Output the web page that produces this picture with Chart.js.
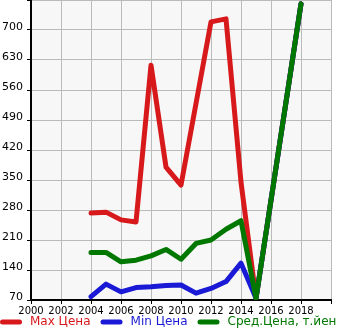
<!DOCTYPE html>
<html>
<head>
<meta charset="utf-8">
<script src="https://cdn.jsdelivr.net/npm/chart.js@4/dist/chart.umd.min.js"></script>
<style>
html,body{margin:0;padding:0;background:#fff;}
canvas{display:block;}
</style>
</head>
<body>
<canvas id="c" width="345" height="335"></canvas>
<script>
const years = [2004, 2005, 2006, 2007, 2008, 2009, 2010, 2011, 2012, 2013, 2014, 2015, 2018];
const maxPrice = [273, 275, 257, 252, 618, 380, 338, null, 719, 726, 345, 74, 761];
const minPrice = [78, 107, 89, 99, 101, 104, 105, 86, 97, 113, 156, 74, 761];
const avgPrice = [181, 181, 159, 163, 173, 188, 165, 202, 210, 235, 255, 74, 761];
const seriesNames = ['Max Цена', 'Min Цена', 'Сред.Цена, т.йен'];
const seriesColors = ['#d7191c', '#1a1ad6', '#007800'];
const yTicks = [70, 140, 210, 280, 350, 420, 490, 560, 630, 700];
const xTicks = [2000, 2002, 2004, 2006, 2008, 2010, 2012, 2014, 2016, 2018];

const toPts = arr => years.map((y, i) => ({x: y, y: arr[i]}));
const seriesData = [maxPrice, minPrice, avgPrice];

const bgPlugin = {
  id: 'bg',
  beforeDraw(chart) {
    const a = chart.chartArea, ctx = chart.ctx;
    ctx.save();
    ctx.fillStyle = '#f7f7f7';
    ctx.fillRect(a.left, a.top, a.right - a.left, a.bottom - a.top);
    ctx.restore();
  }
};

// legend drawn in one row at the bottom, like the reference
const legendPlugin = {
  id: 'rowLegend',
  afterDraw(chart) {
    const ctx = chart.ctx;
    const y = 322;
    let x = 0;
    ctx.save();
    ctx.font = '12px "DejaVu Sans"';
    ctx.textBaseline = 'middle';
    chart.data.datasets.forEach((ds, i) => {
      ctx.strokeStyle = seriesColors[i];
      ctx.lineWidth = 5;
      ctx.lineCap = 'round';
      ctx.beginPath();
      ctx.moveTo(x + 2.5, y);
      ctx.lineTo(x + 19.5, y);
      ctx.stroke();
      ctx.fillStyle = seriesColors[i];
      ctx.fillText(ds.label, x + 30, y);
      x += 30 + ctx.measureText(ds.label).width + 10;
    });
    ctx.restore();
  }
};

new Chart(document.getElementById('c'), {
  type: 'line',
  data: {
    datasets: seriesData.map((d, i) => ({
      label: seriesNames[i],
      data: toPts(d),
      order: 3 - i,
      borderColor: seriesColors[i],
      backgroundColor: seriesColors[i],
      borderWidth: 5,
      pointRadius: 0,
      tension: 0,
      spanGaps: true,
      borderJoinStyle: 'round',
      borderCapStyle: 'round'
    }))
  },
  options: {
    responsive: false,
    animation: false,
    layout: {padding: {left: 0, right: 14, top: 0, bottom: 20}},
    plugins: {
      tooltip: {enabled: false},
      legend: {display: false}
    },
    scales: {
      x: {
        type: 'linear',
        min: 2000,
        max: 2020,
        afterBuildTicks(scale) { scale.ticks = xTicks.concat([2020]).map(v => ({value: v})); },
        ticks: {
          color: '#000',
          font: {family: 'DejaVu Sans', size: 10},
          maxRotation: 0,
          autoSkip: false,
          padding: 1,
          callback: v => (xTicks.includes(v) ? String(v) : '')
        },
        grid: {color: '#bbbbbb', lineWidth: 1, tickLength: 4, tickColor: '#000'},
        border: {color: '#000', width: 2},
        afterFit(scale) { scale.height = 15; scale.paddingLeft = 0; scale.paddingRight = 0; }
      },
      y: {
        type: 'linear',
        min: 70,
        max: 770,
        afterBuildTicks(scale) { scale.ticks = yTicks.concat([770]).map(v => ({value: v})); },
        ticks: {
          color: '#000',
          font: {family: 'DejaVu Sans', size: 11},
          padding: 4,
          labelOffset: -3,
          callback: v => (yTicks.includes(v) ? String(v) : '')
        },
        grid: {color: '#bbbbbb', lineWidth: 1, tickLength: 4, tickColor: '#000'},
        border: {color: '#000', width: 2},
        afterFit(scale) { scale.width = 31; scale.paddingTop = 0; scale.paddingBottom = 0; }
      }
    }
  },
  plugins: [bgPlugin, legendPlugin]
});
</script>
</body>
</html>
